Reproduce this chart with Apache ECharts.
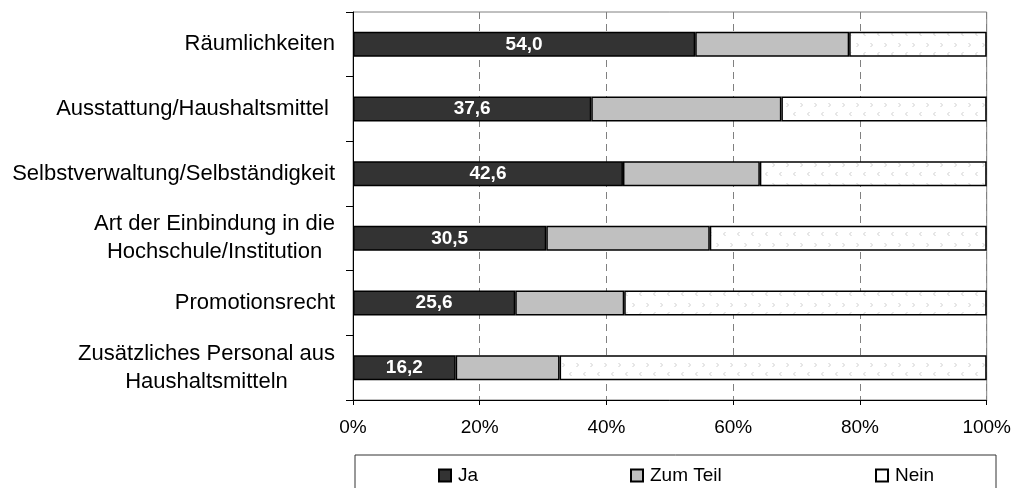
<!DOCTYPE html>
<html>
<head>
<meta charset="utf-8">
<script src="https://cdn.jsdelivr.net/npm/echarts@6/dist/echarts.min.js"></script>
<style>
  html, body { margin: 0; padding: 0; background: #fff; }
  #chart { width: 1014px; height: 488px; }
</style>
</head>
<body>
<div id="chart"></div>
<script>
// categories top to bottom
var categories = [
  'Räumlichkeiten',
  'Ausstattung/Haushaltsmittel ',
  'Selbstverwaltung/Selbständigkeit',
  'Art der Einbindung in die\nHochschule/Institution',
  'Promotionsrecht',
  'Zusätzliches Personal aus\nHaushaltsmitteln'
]
var ja = [54.0, 37.6, 42.6, 30.5, 25.6, 16.2]
var zumTeil = [24.3, 30.0, 21.6, 25.8, 17.2, 16.4]
var nein = [21.7, 32.4, 35.8, 43.7, 57.2, 67.4]
var xTicks = [0, 20, 40, 60, 80, 100]

var FONT = '"Liberation Sans", Arial, sans-serif'
var LABEL_SIZE = 22

// dotted chevron pattern for "Nein"
function makePattern() {
  var c = document.createElement('canvas')
  c.width = 14
  c.height = 20
  var g = c.getContext('2d')
  g.fillStyle = '#fff'
  g.fillRect(0, 0, 14, 20)
  g.strokeStyle = '#cfcfcf'
  g.lineWidth = 1
  g.beginPath()
  // ">"
  g.moveTo(2.5, 3); g.lineTo(4.5, 5); g.lineTo(2.5, 7)
  // "<"
  g.moveTo(11.5, 12); g.lineTo(9.5, 14); g.lineTo(11.5, 16)
  g.stroke()
  return c
}

// centre the lines of two-line labels under each other
var measure = document.createElement('canvas').getContext('2d')
measure.font = LABEL_SIZE + 'px ' + FONT
var rich = {}
categories.forEach(function (cat, i) {
  if (cat.indexOf('\n') >= 0) {
    var w = Math.max.apply(null, cat.split('\n').map(function (l) { return measure.measureText(l).width }))
    rich['m' + i] = { width: Math.ceil(w), align: 'center', fontSize: LABEL_SIZE, lineHeight: 28, fontFamily: FONT, color: '#000' }
  }
})

var chart = echarts.init(document.getElementById('chart'))

var barBorder = { borderColor: '#000', borderWidth: 1.5 }

chart.setOption({
  animation: false,
  grid: {
    left: 353,
    right: 26,
    top: 12,
    bottom: 88,
    show: true,
    borderColor: '#808080',
    borderWidth: 1
  },
  xAxis: {
    type: 'value',
    min: xTicks[0],
    max: xTicks[xTicks.length - 1],
    interval: 20,
    axisLine: { show: true, lineStyle: { color: '#000', width: 1 } },
    axisTick: { show: true, length: 5, lineStyle: { color: '#000' } },
    axisLabel: {
      formatter: '{value}%',
      fontSize: 19,
      fontFamily: FONT,
      color: '#000',
      margin: 18
    },
    splitLine: { show: true, lineStyle: { color: '#808080', type: [7, 5], width: 1 } }
  },
  yAxis: {
    type: 'category',
    inverse: true,
    data: categories,
    axisLine: { show: true, lineStyle: { color: '#000', width: 1 } },
    axisTick: { show: true, length: 7, inside: false, lineStyle: { color: '#000' } },
    axisLabel: {
      fontSize: LABEL_SIZE,
      lineHeight: 28,
      fontFamily: FONT,
      color: '#000',
      margin: 18,
      rich: rich,
      formatter: function (v, idx) {
        if (v.indexOf('\n') < 0) return v
        return v.split('\n').map(function (l) { return '{m' + idx + '|' + l + '}' }).join('\n')
      }
    },
    splitLine: { show: false }
  },
  legend: [
    { data: ['Ja'], left: 433, top: 461 },
    { data: ['Zum Teil'], left: 625, top: 461 },
    { data: [{ name: 'Nein', itemStyle: { color: '#fff' } }], left: 870, top: 461 }
  ].map(function (l) {
    return Object.assign(l, {
      selectedMode: false,
      icon: 'rect',
      itemWidth: 12,
      itemHeight: 12,
      itemGap: 0,
      z: 10,
      textStyle: { fontSize: 19, fontFamily: FONT, color: '#000', padding: [0, 0, 0, 2] }
    })
  }),
  graphic: [{
    type: 'rect',
    z: 1,
    shape: { x: 355, y: 455, width: 641, height: 40 },
    style: { fill: '#fff', stroke: '#333', lineWidth: 1 }
  }],
  series: [
    {
      name: 'Ja',
      type: 'bar',
      stack: 'total',
      barWidth: 25,
      data: ja,
      itemStyle: Object.assign({ color: '#333333' }, barBorder),
      label: {
        show: true,
        position: 'inside',
        color: '#fff',
        fontWeight: 'bold',
        fontSize: 19,
        fontFamily: FONT,
        formatter: function (p) { return p.value.toFixed(1).replace('.', ',') }
      }
    },
    {
      name: 'Zum Teil',
      type: 'bar',
      stack: 'total',
      barWidth: 25,
      data: zumTeil,
      itemStyle: Object.assign({ color: '#c0c0c0' }, barBorder)
    },
    {
      name: 'Nein',
      type: 'bar',
      stack: 'total',
      barWidth: 25,
      data: nein,
      itemStyle: Object.assign({ color: { image: makePattern(), repeat: 'repeat' } }, barBorder)
    }
  ]
})
</script>
</body>
</html>
